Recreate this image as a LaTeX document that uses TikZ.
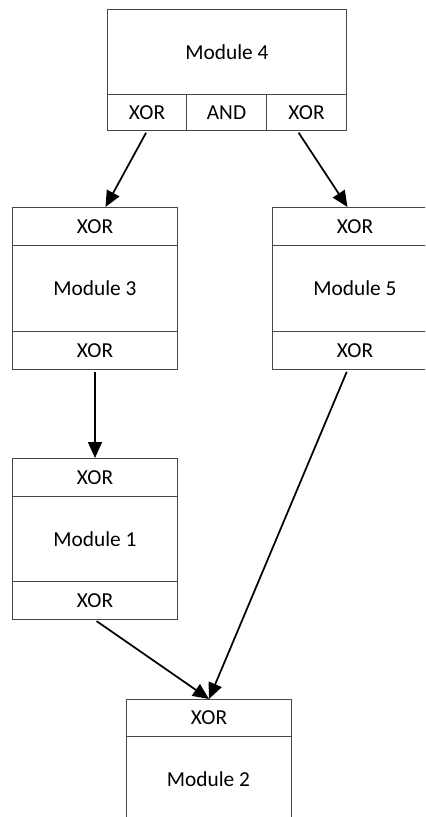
\documentclass[tikz,border=0pt]{standalone}
\usepackage{fontspec}
\setmainfont{Carlito}
\usetikzlibrary{arrows.meta}
\newdimen\pxu \pxu=0.75pt
\tikzset{
  cell/.style={draw=black!72, line width=0.75pt, rectangle, inner sep=0pt, anchor=north west,
    font=\fontsize{16pt}{19pt}\selectfont, text=black},
  flow/.style={draw=black, line width=1.3pt, -{Triangle[length=12pt,width=10.5pt]}, shorten <=1.5pt}
}
\begin{document}
\begin{tikzpicture}[x=0.75pt,y=-0.75pt]
\useasboundingbox (0,0) rectangle (425,817);
\clip (0,0) rectangle (425,817);
% Module 4
\node[cell, minimum width=239\pxu, minimum height=85\pxu] (m4) at (107,9) {Module 4};
\node[cell, minimum width=79\pxu, minimum height=36\pxu] (m4xa) at (107,94) {XOR};
\node[cell, minimum width=80\pxu, minimum height=36\pxu] (m4and) at (186,94) {AND};
\node[cell, minimum width=80\pxu, minimum height=36\pxu] (m4xb) at (266,94) {XOR};
% Module 3
\node[cell, minimum width=165\pxu, minimum height=38\pxu] (m3t) at (12,207) {XOR};
\node[cell, minimum width=165\pxu, minimum height=86\pxu] (m3b) at (12,245) {Module 3};
\node[cell, minimum width=165\pxu, minimum height=38\pxu] (m3o) at (12,331) {XOR};
% Module 5
\node[cell, minimum width=165\pxu, minimum height=38\pxu] (m5t) at (272,207) {XOR};
\node[cell, minimum width=165\pxu, minimum height=86\pxu] (m5b) at (272,245) {Module 5};
\node[cell, minimum width=165\pxu, minimum height=38\pxu] (m5o) at (272,331) {XOR};
% Module 1
\node[cell, minimum width=165\pxu, minimum height=38\pxu] (m1t) at (12,458) {XOR};
\node[cell, minimum width=165\pxu, minimum height=85\pxu] (m1b) at (12,496) {Module 1};
\node[cell, minimum width=165\pxu, minimum height=38\pxu] (m1o) at (12,581) {XOR};
% Module 2
\node[cell, minimum width=165\pxu, minimum height=37\pxu] (m2t) at (126,699) {XOR};
\node[cell, minimum width=165\pxu, minimum height=90\pxu] (m2b) at (126,736) {};
\node[font=\fontsize{16pt}{19pt}\selectfont, inner sep=0pt] (m2lbl) at (208.5,779) {Module 2};
% connectors
\draw[flow] (m4xa.south) -- ([xshift=10.5\pxu]m3t.north);
\draw[flow] ([xshift=-9\pxu]m4xb.south) -- ([xshift=-7.5\pxu]m5t.north);
\draw[flow] (m3o.south) -- (m1t.north);
\draw[flow] (m1o.south) -- (m2t.north);
\draw[flow] ([xshift=-7.5\pxu]m5o.south) -- (m2t.north);
\end{tikzpicture}
\end{document}
